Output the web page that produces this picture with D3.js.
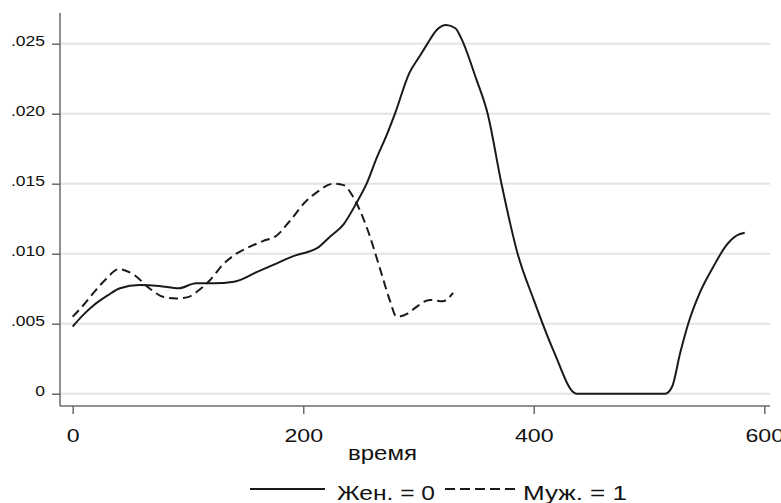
<!DOCTYPE html>
<html>
<head>
<meta charset="utf-8">
<script src="https://cdn.jsdelivr.net/npm/d3@7"></script>
<style>
  body { margin: 0; background: #fff; }
  svg { font-family: "Liberation Sans", Arial, sans-serif; }
</style>
</head>
<body>
<div id="chart"></div>
<script>
// Data
var womenTime = [0, 10, 18, 30, 41, 58, 75, 92, 107, 122, 140, 160, 174, 194, 203, 212, 223, 235, 246, 255, 264, 272, 280, 292, 301, 307, 316, 324, 332, 337, 350, 360, 372, 386, 400, 417, 437, 514, 520, 527, 534, 544, 556, 567, 576, 583];
var womenDens = [.0048, .0057, .0063, .0070, .00753, .00776, .0077, .00753, .00789, .00789, .0080, .0087, .0092, .0099, .0101, .0104, .0112, .0121, .0136, .0150, .0169, .0184, .0201, .0229, .0241, .0249, .0260, .02634, .0261, .0254, .0225, .0200, .0150, .0100, .0067, .0031, 0, 0, .0005, .0029, .0050, .0072, .0091, .0106, .0113, .0115];

var menTime = [0, 9, 18, 29, 40, 53, 67, 79, 90, 100, 108, 119, 130, 142, 151, 165, 177, 188, 203, 212, 226, 235, 243, 255, 266, 275, 281, 290, 295, 310, 321, 330];
var menDens = [.0055, .0063, .0072, .0082, .0089, .0085, .0075, .0069, .0068, .0069, .0073, .0081, .0092, .0100, .0104, .0109, .0113, .0123, .0138, .0144, .0150, .0149, .0141, .0119, .0091, .0067, .0055, .0057, .0060, .0067, .0066, .0072];

var yTicks = [0, .005, .010, .015, .020, .025];
var xTicks = [0, 200, 400, 600];
var xTitle = "время";
var legendLabels = ["Жен. = 0", "Муж. = 1"];

var svgWidth = 781;
var svgHeight = 503;

var plot = { left: 60, right: 770, top: 13, bottom: 406 };

var svg = d3.select("#chart")
    .append("svg")
    .attr("width", svgWidth)
    .attr("height", svgHeight);

// the reference type is set a little wide, so stretch text horizontally
function stretch(sel, factor) {
    sel.each(function () {
        var len = this.getComputedTextLength();
        d3.select(this)
            .attr("textLength", len * factor)
            .attr("lengthAdjust", "spacingAndGlyphs");
    });
}

var xScale = d3.scaleLinear()
    .domain([0, 600])
    .range([72.7, 764.3]);

var yScale = d3.scaleLinear()
    .domain([0, .025])
    .range([393.7, 43.7]);

// gridlines
svg.append("g")
    .selectAll("line")
    .data(yTicks)
    .enter()
    .append("line")
    .attr("x1", plot.left)
    .attr("x2", plot.right)
    .attr("y1", d => yScale(d))
    .attr("y2", d => yScale(d))
    .attr("stroke", "#e4e4e4")
    .attr("stroke-width", 2);

// y axis
var fmt = d => d === 0 ? "0" : d3.format(".3f")(d).replace(/^0/, "");
var leftAxis = d3.axisLeft(yScale).tickValues(yTicks).tickFormat(fmt).tickSize(8).tickPadding(7);
var yAxis = svg.append("g")
    .attr("transform", `translate(${plot.left}, 0)`)
    .call(leftAxis);
yAxis.select(".domain").remove();
yAxis.selectAll("line").attr("stroke", "#6a6a6a").attr("stroke-width", 1.5);
yAxis.selectAll("text")
    .attr("fill", "#111")
    .attr("font-size", 15.5)
    .attr("dy", "0.1em")
    .attr("font-family", "Liberation Sans, Arial, sans-serif")
    .call(stretch, 1.13);

// x axis
var bottomAxis = d3.axisBottom(xScale).tickValues(xTicks).tickSize(8);
var xAxis = svg.append("g")
    .attr("transform", `translate(0, ${plot.bottom})`)
    .call(bottomAxis);
xAxis.select(".domain").remove();
xAxis.selectAll("line").attr("stroke", "#6a6a6a").attr("stroke-width", 1.5);
xAxis.selectAll("text")
    .attr("fill", "#111")
    .attr("font-size", 19)
    .attr("y", 36)
    .attr("dy", null)
    .attr("font-family", "Liberation Sans, Arial, sans-serif")
    .call(stretch, 1.22);

// axis lines
svg.append("line")
    .attr("x1", plot.left).attr("x2", plot.left)
    .attr("y1", plot.top).attr("y2", plot.bottom)
    .attr("stroke", "#6a6a6a").attr("stroke-width", 1.5);
svg.append("line")
    .attr("x1", plot.left).attr("x2", plot.right)
    .attr("y1", plot.bottom).attr("y2", plot.bottom)
    .attr("stroke", "#6a6a6a").attr("stroke-width", 1.5);

// x title
svg.append("text")
    .attr("x", 382.5)
    .attr("y", 460)
    .attr("text-anchor", "middle")
    .attr("font-size", 21)
    .attr("fill", "#111")
    .text(xTitle)
    .attr("textLength", 69)
    .attr("lengthAdjust", "spacingAndGlyphs");

// lines
var line = d3.line()
    .x(d => xScale(d[0]))
    .y(d => yScale(d[1]))
    .curve(d3.curveMonotoneX);

svg.append("path")
    .datum(d3.zip(womenTime, womenDens))
    .attr("d", line)
    .attr("fill", "none")
    .attr("stroke", "#1a1a1a")
    .attr("stroke-width", 2);

svg.append("path")
    .datum(d3.zip(menTime, menDens))
    .attr("d", line)
    .attr("fill", "none")
    .attr("stroke", "#1a1a1a")
    .attr("stroke-width", 2)
    .attr("stroke-dasharray", "9,5");

// legend
var legend = svg.append("g");
legend.append("line")
    .attr("x1", 250).attr("x2", 325)
    .attr("y1", 489).attr("y2", 489)
    .attr("stroke", "#1a1a1a").attr("stroke-width", 2);
legend.append("text")
    .attr("x", 337).attr("y", 500)
    .attr("font-size", 19.5).attr("fill", "#111")
    .text(legendLabels[0])
    .attr("textLength", 98)
    .attr("lengthAdjust", "spacingAndGlyphs");
legend.append("line")
    .attr("x1", 445).attr("x2", 517)
    .attr("y1", 489).attr("y2", 489)
    .attr("stroke", "#1a1a1a").attr("stroke-width", 2)
    .attr("stroke-dasharray", "10,5");
legend.append("text")
    .attr("x", 523).attr("y", 500)
    .attr("font-size", 19.5).attr("fill", "#111")
    .text(legendLabels[1])
    .attr("textLength", 104)
    .attr("lengthAdjust", "spacingAndGlyphs");
</script>
</body>
</html>
